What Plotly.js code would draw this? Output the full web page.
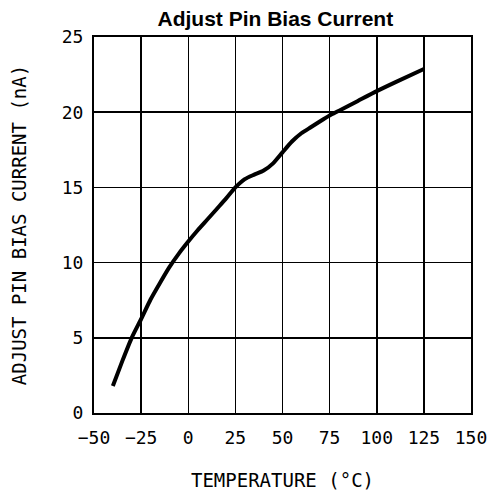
<!DOCTYPE html>
<html>
<head>
<meta charset="utf-8">
<script src="https://cdn.plot.ly/plotly-3.0.1.min.js"></script>
<style>html,body{margin:0;padding:0;background:#fff;}#chart{width:489px;height:497px;}</style>
</head>
<body>
<div id="chart"></div>
<script>
const temperature = [-40, -35, -30, -25, -20, -15, -10, -5, 0, 5, 10, 15, 20, 25, 30, 35, 40, 45, 50, 55, 60, 65, 70, 75, 80, 90, 100, 110, 125];
const biasCurrent = [1.8, 3.45, 5.0, 6.25, 7.55, 8.65, 9.7, 10.6, 11.4, 12.15, 12.85, 13.55, 14.25, 15.0, 15.55, 15.85, 16.12, 16.6, 17.33, 18.05, 18.6, 19.0, 19.4, 19.78, 20.1, 20.75, 21.4, 22.0, 22.87];
const xTicks = [-50, -25, 0, 25, 50, 75, 100, 125, 150];
const yTicks = [0, 5, 10, 15, 20, 25];

const monoFamily = 'DejaVu Sans Mono, Liberation Mono, monospace';
const tickFont = {family: monoFamily, size: 18, color: '#000'};
const trace = {
  x: temperature, y: biasCurrent, type: 'scatter', mode: 'lines',
  line: {color: '#000', width: 4, shape: 'spline', smoothing: 0.6},
  hoverinfo: 'skip'
};
const layout = {
  width: 489, height: 497,
  margin: {l: 94, r: 18, t: 37, b: 84},
  paper_bgcolor: '#fff', plot_bgcolor: '#fff',
  showlegend: false,
  title: {text: '<b>Adjust Pin Bias Current</b>', font: {family: 'Liberation Sans, Arial, sans-serif', size: 21, color: '#000'},
          x: 0.481, xref: 'paper', xanchor: 'center', y: 0.978, yref: 'container', yanchor: 'top'},
  xaxis: {
    range: [-50, 150], tickvals: xTicks, ticktext: xTicks.map(v => v < 0 ? '\u2212' + Math.abs(v) : String(v)),
    showgrid: true, gridcolor: '#000', gridwidth: 1.5, zeroline: false,
    showline: true, linecolor: '#000', linewidth: 2, mirror: true, ticks: '', ticklen: 0,
    tickfont: tickFont, ticklabelstandoff: 7,
    title: {text: 'TEMPERATURE (°C)', font: {family: monoFamily, size: 19, color: '#000'}, standoff: 27}
  },
  yaxis: {
    range: [0, 25], tickvals: yTicks,
    showgrid: true, gridcolor: '#000', gridwidth: 1.5, zeroline: false,
    showline: true, linecolor: '#000', linewidth: 2, mirror: true, ticks: '', ticklen: 0,
    tickfont: tickFont, ticklabelstandoff: 5,
    title: {text: 'ADJUST PIN BIAS CURRENT (nA)', font: {family: monoFamily, size: 19, color: '#000'}, standoff: 30}
  }
};
Plotly.newPlot('chart', [trace], layout, {staticPlot: true, displayModeBar: false});
</script>
</body>
</html>
